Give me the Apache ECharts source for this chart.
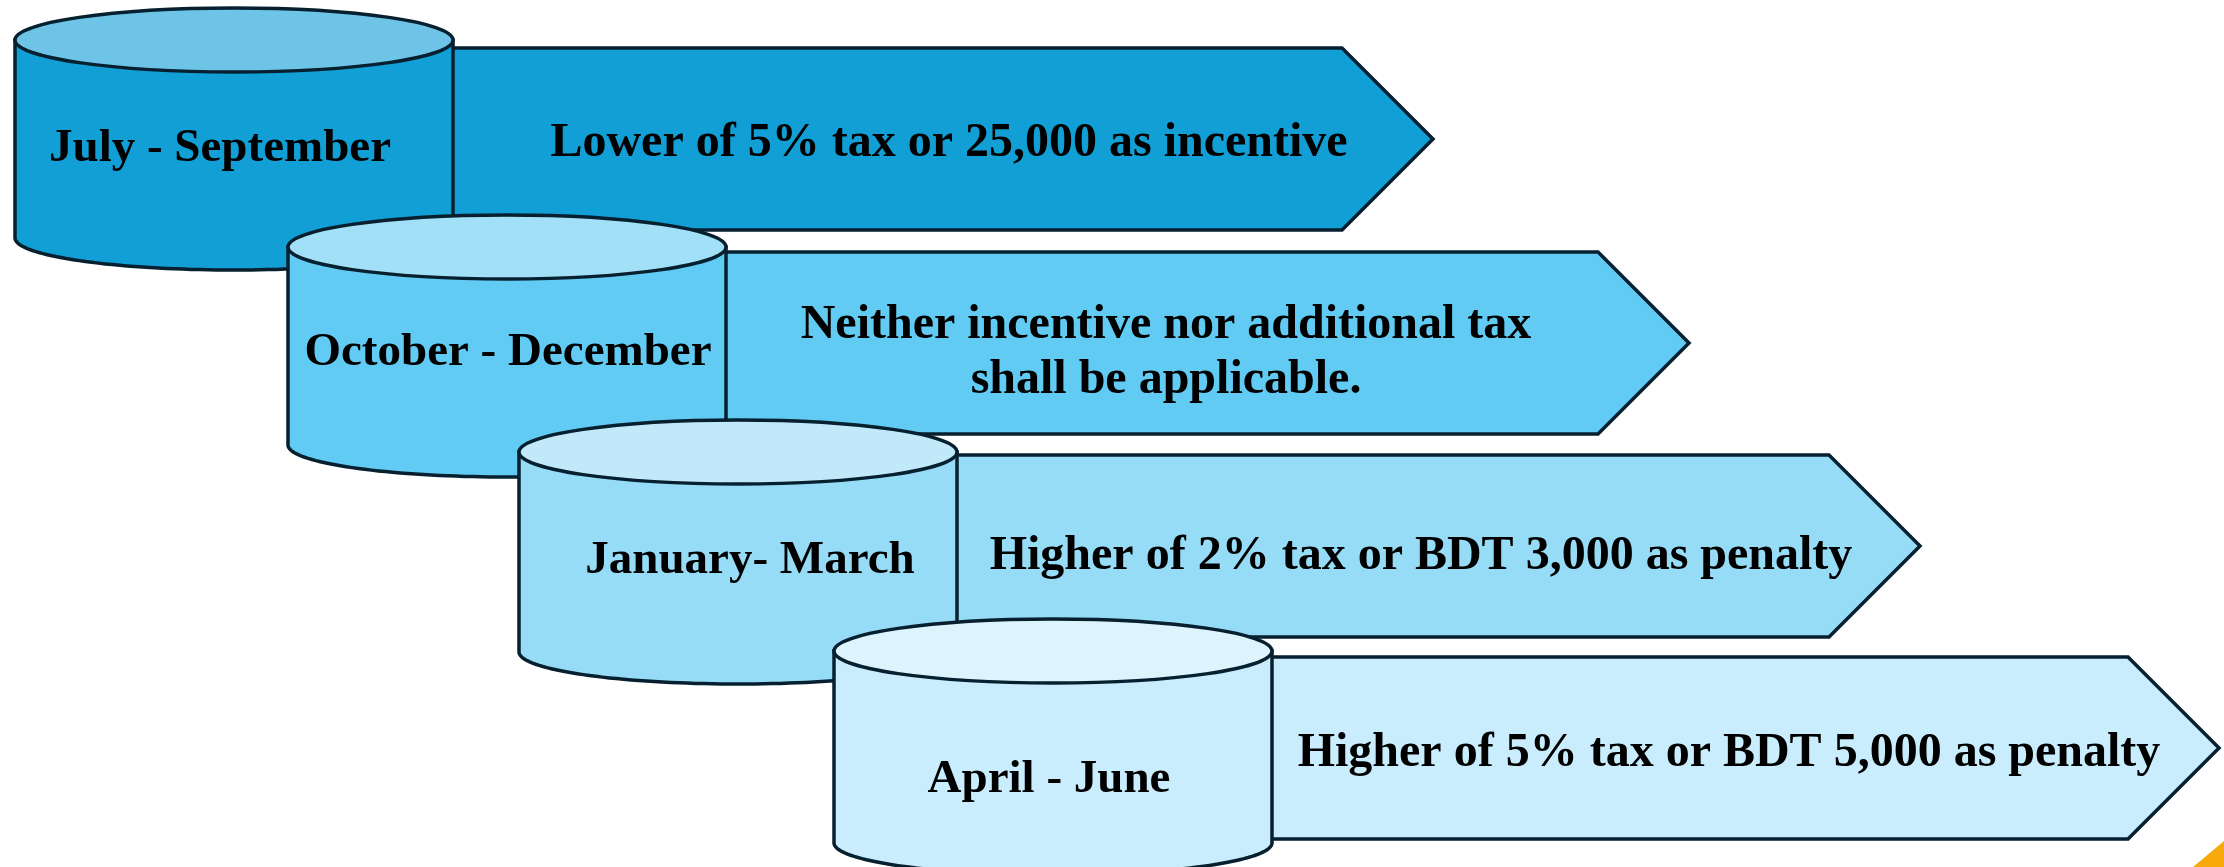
<!DOCTYPE html>
<html>
<head>
<meta charset="utf-8">
<script src="https://cdn.jsdelivr.net/npm/echarts@6/dist/echarts.min.js"></script>
<style>
  html, body { margin: 0; padding: 0; background: #fff; }
  #chart { width: 2224px; height: 867px; }
</style>
</head>
<body>
<div id="chart"></div>
<script>
  // quarters and what applies in each
  const periods = ['July - September', 'October - December', 'January- March', 'April - June'];
  const rules = [
    'Lower of 5% tax or 25,000 as incentive',
    'Neither incentive nor additional tax\nshall be applicable.',
    'Higher of 2% tax or BDT 3,000 as penalty',
    'Higher of 5% tax or BDT 5,000 as penalty'
  ];

  // layout of each step (axis units = page pixels)
  const cylLeft = [15, 288, 519, 834];
  const cylTop = [40, 247, 452, 651];
  const cylBottom = [238, 445, 652, 843];
  const arrowTop = [48, 252, 455, 657];
  const arrowBottom = [230, 434, 637, 839];
  const arrowTip = [1433, 1689, 1920, 2219];
  const labelPos = [[220, 147], [508, 351], [750, 559], [1049, 778]];
  const rulePos = [[949, 142], [1166, 351], [1421, 555], [1729, 752]];
  const bodyColors = ['#119fd6', '#61cbf3', '#97dcf7', '#c9edfc'];
  const topColors = ['#6dc4e6', '#a2e0f8', '#c1e9fa', '#def4fd'];

  const CYL_W = 438, RY = 32, TEXT_DY = 2;
  const STROKE = '#06202f';

  let chart = echarts.init(document.getElementById('chart'));

  function textStyle(text, p, size) {
    return {
      text: text, x: p[0], y: p[1], fill: '#000',
      align: 'center', verticalAlign: 'middle',
      fontFamily: '"Liberation Serif", serif', fontWeight: 'bold',
      fontSize: size, lineHeight: 55
    };
  }

  function renderStep(params, api) {
    let i = api.value(0);
    let c = (x, y) => api.coord([x, y]);
    let L = cylLeft[i], R = L + CYL_W, cx = L + CYL_W / 2;
    let rx = CYL_W / 2;
    let top = cylTop[i], bot = cylBottom[i];

    // arrow, starts behind the cylinder
    let aT = arrowTop[i], aB = arrowBottom[i], tip = arrowTip[i];
    let depth = (aB - aT) / 2;
    let arrowPts = [[cx, aT], [tip - depth, aT], [tip, aT + depth], [tip - depth, aB], [cx, aB]].map(p => c(p[0], p[1]));

    // cylinder body: sides + lower half of the bottom ellipse
    let bodyPts = [c(L, top)];
    for (let k = 0; k <= 80; k++) {
      let a = Math.PI - Math.PI * k / 80;
      bodyPts.push(c(cx + rx * Math.cos(a), bot + RY * Math.sin(a)));
    }
    bodyPts.push(c(R, top));

    let ctr = c(cx, top);
    let edge = c(R, top + RY);

    let lp = c(labelPos[i][0], labelPos[i][1] + TEXT_DY);
    let rp = c(rulePos[i][0], rulePos[i][1] + TEXT_DY);

    return {
      type: 'group',
      children: [
        { type: 'polygon', shape: { points: arrowPts },
          style: { fill: bodyColors[i], stroke: STROKE, lineWidth: 3.5, lineJoin: 'miter' } },
        { type: 'polygon', shape: { points: bodyPts },
          style: { fill: bodyColors[i], stroke: STROKE, lineWidth: 3.5 } },
        { type: 'ellipse', shape: { cx: ctr[0], cy: ctr[1], rx: edge[0] - ctr[0], ry: edge[1] - ctr[1] },
          style: { fill: topColors[i], stroke: STROKE, lineWidth: 3.5 } },
        { type: 'text', style: textStyle(periods[i], lp, 47) },
        { type: 'text', style: textStyle(rules[i], rp, 48) }
      ]
    };
  }

  chart.setOption({
    animation: false,
    grid: { left: 0, right: 0, top: 0, bottom: 0 },
    xAxis: { type: 'value', min: 0, max: 2224, show: false },
    yAxis: { type: 'value', min: 0, max: 867, inverse: true, show: false },
    graphic: [{
      type: 'polygon',
      shape: { points: [[2193, 867], [2224, 841], [2224, 867]] },
      style: { fill: '#f8aa0c' }
    }],
    series: [{
      type: 'custom',
      clip: false,
      renderItem: renderStep,
      data: periods.map((p, i) => [i, 0])
    }]
  });
</script>
</body>
</html>
